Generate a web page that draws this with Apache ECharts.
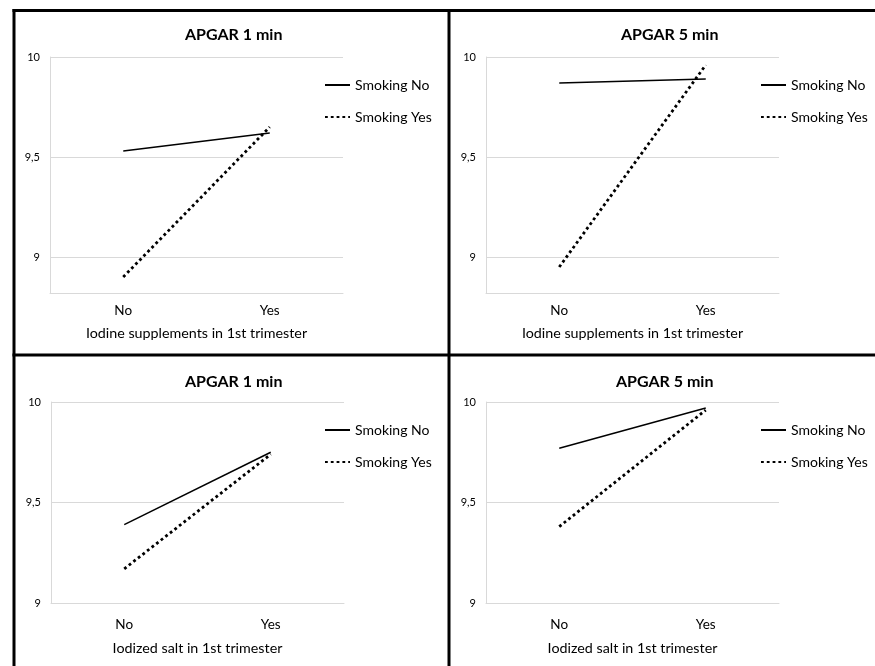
<!DOCTYPE html>
<html>
<head>
<meta charset="utf-8">
<script src="https://cdn.jsdelivr.net/npm/echarts@6/dist/echarts.min.js"></script>
<style>
html,body{margin:0;padding:0;background:#fff;}
#chart{width:875px;height:666px;}
</style>
</head>
<body>
<div id="chart"></div>
<script>
// ---- data ----
var categories = ['No', 'Yes'];
var seriesNames = ['Smoking No', 'Smoking Yes'];
var panelTitles = ['APGAR 1 min', 'APGAR 5 min', 'APGAR 1 min', 'APGAR 5 min'];
var xAxisNames = ['Iodine supplements in 1st trimester', 'Iodine supplements in 1st trimester', 'Iodized salt in 1st trimester', 'Iodized salt in 1st trimester'];
var suppApgar1SmokingNo = [9.53, 9.62];
var suppApgar1SmokingYes = [8.90, 9.65];
var suppApgar5SmokingNo = [9.87, 9.89];
var suppApgar5SmokingYes = [8.95, 9.96];
var saltApgar1SmokingNo = [9.39, 9.75];
var saltApgar1SmokingYes = [9.17, 9.74];
var saltApgar5SmokingNo = [9.77, 9.97];
var saltApgar5SmokingYes = [9.38, 9.96];
var yTickLabels = [9, 9.5, 10];
var yMinTop = 8.82;
var yMinBottom = 9;
var yMax = 10;
var yIntervalTop = 0.02;     // 8.82 is a multiple of 0.02
var yIntervalBottom = 0.5;   // 9 is a multiple of 0.5

var panelData = [
  [suppApgar1SmokingNo, suppApgar1SmokingYes],
  [suppApgar5SmokingNo, suppApgar5SmokingYes],
  [saltApgar1SmokingNo, saltApgar1SmokingYes],
  [saltApgar5SmokingNo, saltApgar5SmokingYes]
];

// ---- layout / style ----
var FONT = 'Lato';
var GRID_COLOR = '#d9d9d9';
var grids = [
  {left: 50, top: 57, width: 293, height: 236},
  {left: 486, top: 57, width: 293, height: 236},
  {left: 51, top: 402, width: 293, height: 201},
  {left: 486, top: 402, width: 293, height: 201}
];
var titlePos = [[185, 27], [621, 27], [185, 374], [616, 374]];
var legendPos = [[324, 78], [760, 78], [324, 423], [760, 423]];
var labelMargin = [11, 11, 15, 15];
var nameGap = [33, 33, 38, 38];
var yMins = [yMinTop, yMinTop, yMinBottom, yMinBottom];
var yIntervals = [yIntervalTop, yIntervalTop, yIntervalBottom, yIntervalBottom];

function isLabelTick(v) {
  for (var k = 0; k < yTickLabels.length; k++) {
    if (Math.abs(v - yTickLabels[k]) < 1e-6) return true;
  }
  return false;
}
// split-line colour cycle: only the lines at 9, 9,5 and 10 are visible
function splitColors(min, interval) {
  var n = Math.round(0.5 / interval);
  var cols = [];
  for (var k = 0; k < n; k++) {
    var v = min + k * interval;
    cols.push(isLabelTick(Math.round(v * 1000) / 1000) ? GRID_COLOR : 'rgba(0,0,0,0)');
  }
  return cols;
}

var option = {
  backgroundColor: '#ffffff',
  animation: false,
  textStyle: {fontFamily: FONT, color: '#000'},
  title: [], grid: [], xAxis: [], yAxis: [], legend: [], series: []
};

for (var i = 0; i < 4; i++) {
  option.grid.push(Object.assign({containLabel: false}, grids[i]));
  option.title.push({
    text: panelTitles[i], left: titlePos[i][0], top: titlePos[i][1], padding: 0,
    textStyle: {fontFamily: FONT, fontWeight: 'bold', fontSize: 16, color: '#000'}
  });
  option.xAxis.push({
    type: 'category', gridIndex: i, data: categories, boundaryGap: true,
    axisLine: {show: true, lineStyle: {color: GRID_COLOR, width: 1}},
    axisTick: {show: false},
    axisLabel: {margin: labelMargin[i], fontFamily: FONT, fontSize: 13.5, color: '#000'},
    name: xAxisNames[i], nameLocation: 'middle', nameGap: nameGap[i],
    nameTextStyle: {fontFamily: FONT, fontSize: 14.3, color: '#000'}
  });
  option.yAxis.push({
    type: 'value', gridIndex: i, min: yMins[i], max: yMax, interval: yIntervals[i],
    axisLine: {show: true, lineStyle: {color: GRID_COLOR, width: 1}},
    axisTick: {show: false},
    splitLine: {show: true, lineStyle: {color: splitColors(yMins[i], yIntervals[i]), width: 1}},
    axisLabel: {
      margin: 10, fontFamily: FONT, fontSize: 11, color: '#000',
      formatter: function (v) {
        if (!isLabelTick(v)) return '';
        return String(v).replace('.', ',');
      }
    }
  });
  option.legend.push({
    orient: 'vertical', left: legendPos[i][0], top: legendPos[i][1], padding: 0,
    itemWidth: 25, itemHeight: 14, itemGap: 18,
    data: seriesNames,
    itemStyle: {opacity: 0},
    textStyle: {fontFamily: FONT, fontSize: 14, color: '#000'}
  });
  option.series.push({
    name: seriesNames[0], type: 'line', xAxisIndex: i, yAxisIndex: i,
    data: panelData[i][0], symbol: 'none', silent: true,
    lineStyle: {color: '#000', width: 1.5, type: 'solid'},
    itemStyle: {color: '#000'}
  });
  option.series.push({
    name: seriesNames[1], type: 'line', xAxisIndex: i, yAxisIndex: i,
    data: panelData[i][1], symbol: 'none', silent: true,
    lineStyle: {color: '#000', width: 2.8, type: [2.8, 3]},
    itemStyle: {color: '#000'}
  });
}

// panel borders
var B = {stroke: '#000', lineWidth: 3};
option.graphic = [
  {type: 'line', shape: {x1: 12.5, y1: 10.5, x2: 880, y2: 10.5}, style: B, z: 100},
  {type: 'line', shape: {x1: 14, y1: 9, x2: 14, y2: 670}, style: B, z: 100},
  {type: 'line', shape: {x1: 449, y1: 9, x2: 449, y2: 670}, style: B, z: 100},
  {type: 'line', shape: {x1: 12.5, y1: 355, x2: 880, y2: 355}, style: B, z: 100}
];

var chart = echarts.init(document.getElementById('chart'), null, {renderer: 'canvas'});
chart.setOption(option);
</script>
</body>
</html>
